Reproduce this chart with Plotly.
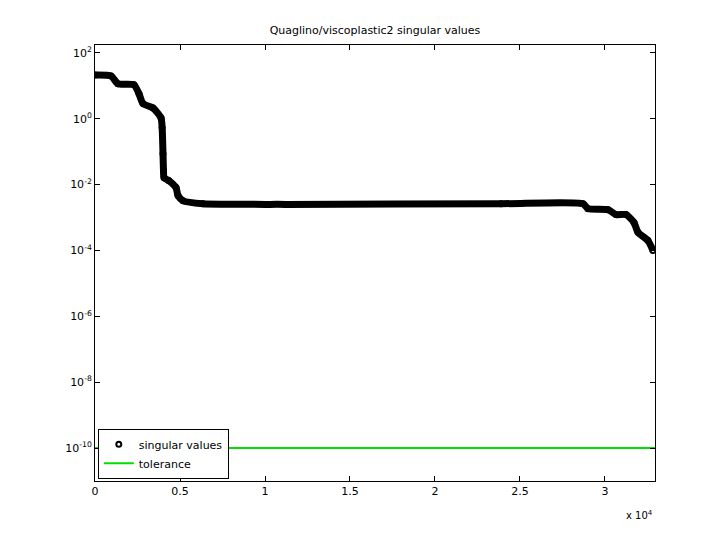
import plotly.graph_objects as go

# singular value curve (index, log10 value)
sv_index = [1, 941, 1353, 2294, 2588, 2824, 3412, 3882, 3950, 4000, 4030, 4060, 4353, 4765, 4882,
            5176, 6353, 11235, 23882, 28706, 29000, 30176, 30647, 31235, 31706, 31941, 32529, 32824]
sv_log = [1.33, 1.30, 1.06, 1.03, 0.76, 0.46, 0.33, 0.03, -0.27, -1.06, -1.58, -1.79, -1.88, -2.09, -2.33,
          -2.49, -2.58, -2.60, -2.58, -2.58, -2.73, -2.76, -2.91, -2.91, -3.15, -3.45, -3.70, -4.0]
sv_values = [10 ** v for v in sv_log]
tol_x = [0, 32942]
tol_y = [1e-10, 1e-10]

x_ticks = [0, 5000, 10000, 15000, 20000, 25000, 30000]
x_labels = ["0", "0.5", "1", "1.5", "2", "2.5", "3"]
y_ticks = [1e2, 1e0, 1e-2, 1e-4, 1e-6, 1e-8, 1e-10]
y_labels = ["10<sup>2</sup>", "10<sup>0</sup>", "10<sup>-2</sup>", "10<sup>-4</sup>",
            "10<sup>-6</sup>", "10<sup>-8</sup>", "10<sup>-10</sup>"]

fig = go.Figure()
fig.add_trace(go.Scatter(x=sv_index, y=sv_values, mode="lines",
                         line=dict(color="black", width=7, shape="spline", smoothing=0.6),
                         showlegend=False, hoverinfo="skip"))
fig.add_trace(go.Scatter(x=sv_index, y=sv_values, mode="markers", name="singular values",
                         marker=dict(symbol="circle-open", color="black", size=5, line=dict(width=2))))
fig.add_trace(go.Scatter(x=tol_x, y=tol_y, mode="lines", name="tolerance",
                         line=dict(color="#00e000", width=2)))

axis_style = dict(showline=True, linecolor="black", linewidth=1, mirror="ticks", ticks="inside",
                  ticklen=5, tickcolor="black", showgrid=False, zeroline=False, automargin=False,
                  tickfont=dict(size=11, color="black"))
fig.update_xaxes(range=[0, 32942], tickvals=x_ticks, ticktext=x_labels, **axis_style)
fig.update_yaxes(type="log", range=[-11, 2.24], tickvals=y_ticks, ticktext=y_labels, **axis_style)

fig.update_layout(
    width=720, height=540,
    margin=dict(l=87, r=73, t=37, b=67, autoexpand=False),
    paper_bgcolor="white", plot_bgcolor="white",
    font=dict(family="DejaVu Sans", size=11, color="black"),
    title=dict(text="Quaglino/viscoplastic2 singular values", x=(87 + 280) / 720, xanchor="center",
               y=1 - 22 / 540, yanchor="middle", font=dict(size=11)),
    legend=dict(x=0.005, y=0.005, xanchor="left", yanchor="bottom", bgcolor="white",
                bordercolor="black", borderwidth=1, font=dict(size=11)),
    annotations=[dict(text="x 10<sup>4</sup>", xref="paper", yref="paper", x=1.0, y=-0.06,
                      xanchor="right", yanchor="top", showarrow=False, font=dict(size=10))],
)

fig.write_html("out.html")
